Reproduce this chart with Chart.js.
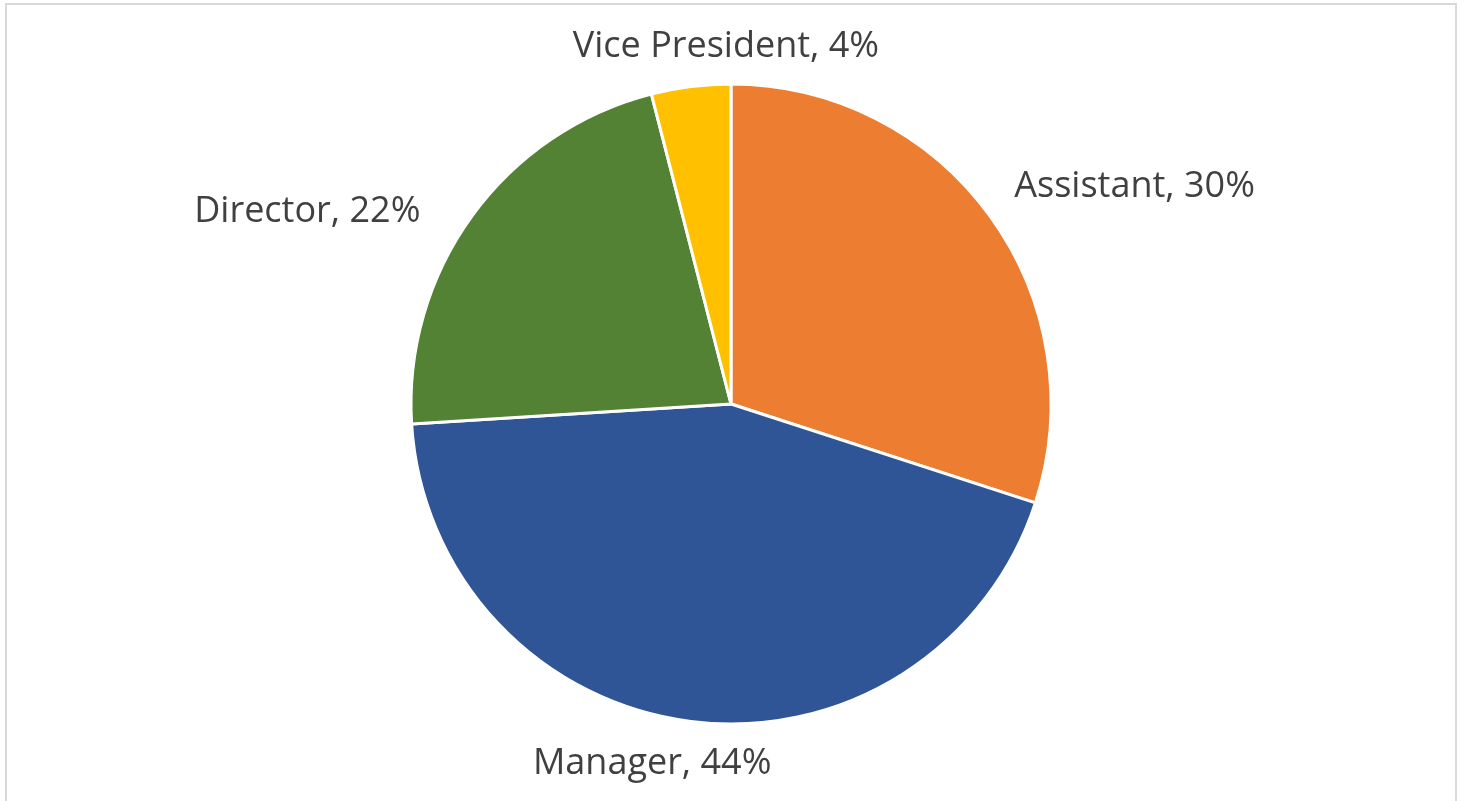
<!DOCTYPE html>
<html lang="en">
<head>
  <meta charset="UTF-8" />
  <title>Staff by Position</title>
  <script src="https://cdn.jsdelivr.net/npm/chart.js"></script>
  <style>
    * { margin: 0; padding: 0; box-sizing: border-box; }
    html, body {
      width: 100%;
      height: 100%;
      background: #fff;
      overflow: hidden;
    }
    /* thin grey frame round the chart area */
    .frame {
      position: absolute;
      left: 5px;
      top: 3px;
      width: 1452px;
      height: 840px;
      border: 2px solid #d9d9d9;
    }
    #pieChart {
      position: absolute;
      left: 0;
      top: 0;
    }
  </style>
</head>
<body>
  <div class="frame"></div>
  <canvas id="pieChart" width="1465" height="801"></canvas>

  <script>
    // Share of staff by position (percent)
    const positions = ['Assistant', 'Manager', 'Director', 'Vice President'];
    const shares = [30, 44, 22, 4];
    const sliceColors = ['#ED7D31', '#2F5597', '#548235', '#FFC000'];

    // Category labels drawn just outside each slice
    const outsideLabels = {
      id: 'outsideLabels',
      afterDatasetsDraw(chart, args, opts) {
        const ctx = chart.ctx;
        const meta = chart.getDatasetMeta(0);
        const total = shares.reduce((a, b) => a + b, 0);
        ctx.save();
        ctx.font = opts.font;
        ctx.fillStyle = opts.color;
        ctx.textAlign = 'center';
        ctx.textBaseline = 'middle';
        meta.data.forEach((arc, i) => {
          const p = arc.getProps(['x', 'y', 'startAngle', 'endAngle', 'outerRadius'], true);
          const mid = (p.startAngle + p.endAngle) / 2;
          const text = positions[i] + ', ' + Math.round(shares[i] / total * 100) + '%';
          const w = ctx.measureText(text).width;
          const h = opts.boxHeight;
          const r = p.outerRadius + opts.pad;
          const cos = Math.cos(mid), sin = Math.sin(mid);
          const nudge = (opts.nudge && opts.nudge[i]) || [0, 0];
          const x = p.x + r * cos + cos * w / 2 + nudge[0];
          const y = p.y + r * sin + sin * h / 2 + nudge[1];
          ctx.fillText(text, x, y);
        });
        ctx.restore();
      }
    };

    new Chart(document.getElementById('pieChart'), {
      type: 'pie',
      data: {
        labels: positions,
        datasets: [{
          data: shares,
          backgroundColor: sliceColors,
          borderColor: '#ffffff',
          borderWidth: 3
        }]
      },
      options: {
        responsive: false,
        animation: false,
        radius: 320,
        layout: { padding: { left: 100, right: 103, top: 60, bottom: 53 } },
        plugins: {
          legend: { display: false },
          tooltip: { enabled: false },
          outsideLabels: {
            font: '36px "Open Sans"',
            color: '#404040',
            pad: 14,
            boxHeight: 30,
            nudge: [[36, -12], [-22, 14], [-62, 13], [56, -11]]
          }
        }
      },
      plugins: [outsideLabels]
    });
  </script>
</body>
</html>
